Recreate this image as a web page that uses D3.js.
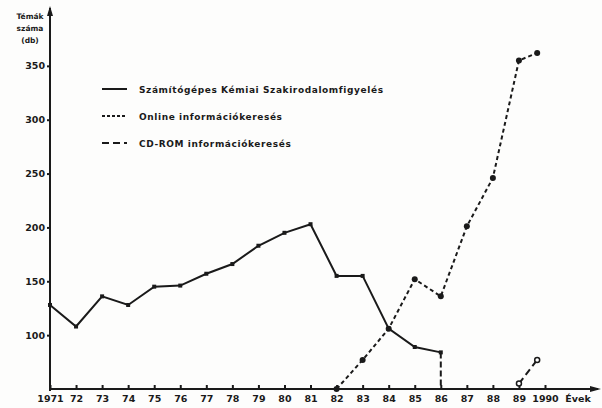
<!DOCTYPE html>
<html>
<head>
<meta charset="utf-8">
<script src="https://cdn.jsdelivr.net/npm/d3@7"></script>
<style>
body{ margin:0; background:#fff; }
svg{ display:block; background:#fdfdfc; }
text{ font-family:"DejaVu Sans", Arial, sans-serif; font-weight:bold; fill:#1a1a1a; }
.axis path, .axis line{ stroke:#1a1a1a; stroke-width:2; }
.axis text{ font-size:9.5px; }
</style>
</head>
<body>
<div id="graph"></div>
<script>

// DATA ------------------------------------------------------------
var yearTicks = [1971,1972,1973,1974,1975,1976,1977,1978,1979,1980,1981,1982,1983,1984,1985,1986,1987,1988,1989,1990]
var yearLabels = ["1971","72","73","74","75","76","77","78","79","80","81","82","83","84","85","86","87","88","89","1990"]
var valueTicks = [100,150,200,250,300,350]

// Számítógépes Kémiai Szakirodalomfigyelés
var skszYears = [1971,1972,1973,1974,1975,1976,1977,1978,1979,1980,1981,1982,1983,1984,1985,1986]
var skszValues = [128,108,136,128,145,146,157,166,183,195,203,155,155,106,89,84]

// Online információkeresés
var onlineYears = [1982,1983,1984,1985,1986,1987,1988,1989,1989.7]
var onlineValues = [50,77,106,152,136,201,246,355,362]

// CD-ROM információkeresés
var cdromYears = [1989,1989.7]
var cdromValues = [55,77]

var legendLabels = ["Számítógépes Kémiai Szakirodalomfigyelés", "Online információkeresés", "CD-ROM információkeresés"]
// END -------------------------------------------------------------

var width = 602, height = 408

var svg = d3.select("#graph").append("svg")
  .attr("width", width)
  .attr("height", height)

var x = d3.scaleLinear().domain([1971, 1990]).range([50, 545])
var y = d3.scaleLinear().domain([50, 400]).range([389, 12])

var ink = "#1a1a1a"

// axes
svg.append("g")
  .attr("class", "axis")
  .attr("transform", "translate(0," + y(50) + ")")
  .call(d3.axisBottom(x).tickValues(yearTicks)
    .tickFormat(function(d, i){ return yearLabels[i] })
    .tickSizeInner(-4).tickSizeOuter(0).tickPadding(6))
  .call(function(g){ g.select(".domain").attr("d", "M" + x(1971) + ",0H598") })

svg.append("g")
  .attr("class", "axis")
  .attr("transform", "translate(" + x(1971) + ",0)")
  .call(d3.axisLeft(y).tickValues(valueTicks).tickSizeInner(3).tickSizeOuter(0).tickPadding(2))
  .call(function(g){ g.select(".domain").attr("d", "M0,8V" + (y(50) + 2)) })

// arrow heads
svg.append("path").attr("d", "M" + (x(1971) - 3) + ",16L" + x(1971) + ",6L" + (x(1971) + 3) + ",16Z").attr("fill", ink)
svg.append("path").attr("d", "M590," + (y(50) - 3) + "L601," + y(50) + "L590," + (y(50) + 3) + "Z").attr("fill", ink)

svg.append("text").attr("x", 578).attr("y", y(50) + 13).attr("text-anchor", "middle")
  .style("font-size", "9.5px").text("Évek")

var ylab = svg.append("text").attr("x", 30).attr("text-anchor", "middle").style("font-size", "7.5px")
;["Témák", "száma", "(db)"].forEach(function(t, i){
  ylab.append("tspan").attr("x", 30).attr("y", 19 + i * 12).text(t)
})

var line = d3.line().x(function(d){ return x(d[0]) }).y(function(d){ return y(d[1]) })

function pairs(xs, vs){ return xs.map(function(d, i){ return [d, vs[i]] }) }

var sksz = pairs(skszYears, skszValues)
var online = pairs(onlineYears, onlineValues)
var cdrom = pairs(cdromYears, cdromValues)

svg.append("path").datum(sksz).attr("d", line)
  .attr("fill", "none").attr("stroke", ink).attr("stroke-width", 2)

// drop to the axis after 1986
svg.append("line")
  .attr("x1", x(1986)).attr("x2", x(1986))
  .attr("y1", y(84)).attr("y2", y(50))
  .attr("stroke", ink).attr("stroke-width", 2).attr("stroke-dasharray", "6,3")

svg.append("path").datum(online).attr("d", line)
  .attr("fill", "none").attr("stroke", ink).attr("stroke-width", 2).attr("stroke-dasharray", "4,3")

svg.append("path").datum(cdrom).attr("d", line)
  .attr("fill", "none").attr("stroke", ink).attr("stroke-width", 2).attr("stroke-dasharray", "7,4")

svg.selectAll(".sq").data(sksz).enter().append("rect")
  .attr("x", function(d){ return x(d[0]) - 2 })
  .attr("y", function(d){ return y(d[1]) - 2 })
  .attr("width", 4).attr("height", 4).attr("fill", ink)

svg.selectAll(".dot").data(online).enter().append("circle")
  .attr("cx", function(d){ return x(d[0]) })
  .attr("cy", function(d){ return y(d[1]) })
  .attr("r", 3).attr("fill", ink)

svg.selectAll(".ring").data(cdrom).enter().append("circle")
  .attr("cx", function(d){ return x(d[0]) })
  .attr("cy", function(d){ return y(d[1]) })
  .attr("r", 2.5).attr("fill", "#fff").attr("stroke", ink).attr("stroke-width", 1.5)

// legend
var dashes = [null, "3,2", "7,4"]
legendLabels.forEach(function(t, i){
  var ly = 89 + i * 27
  svg.append("line").attr("x1", 102).attr("x2", 127).attr("y1", ly).attr("y2", ly)
    .attr("stroke", ink).attr("stroke-width", 2).attr("stroke-dasharray", dashes[i])
  svg.append("text").attr("x", 139).attr("y", ly + 3.5)
    .style("font-size", "9px").style("letter-spacing", "0.6px").text(t)
})

</script>
</body>
</html>
